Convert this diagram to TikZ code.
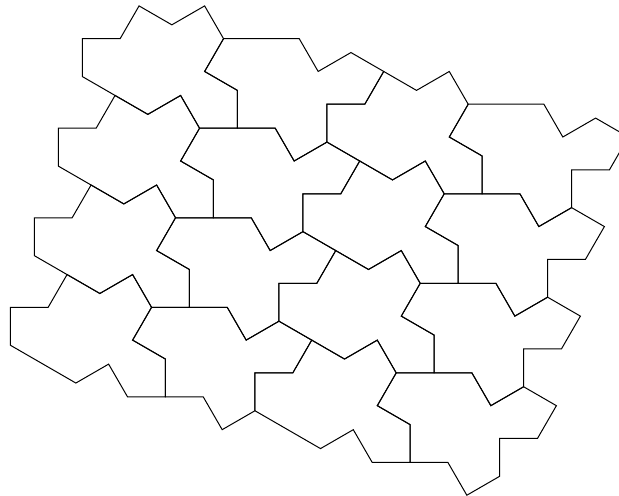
\documentclass[tikz,border=0pt]{standalone}
\usepackage{tikz}
\usetikzlibrary{calc}
\begin{document}
\begin{tikzpicture}[x=1cm, y=1cm,
    tileline/.style={draw=black, line width=0.75pt, line join=miter}]
    \useasboundingbox (0,0) rectangle (16.354,-13.104);
    \clip (0,0) rectangle (16.354,-13.104);
    % lattice of the patch
    \coordinate (o) at (2.174,-1.022);
    \coordinate (u) at (-0.634,-2.366);
    \coordinate (v) at (6.464,-1.732);
    \coordinate (m) at (3.732,0);
    \foreach \j in {0,1}
      \foreach \i in {0,...,3} {
        \draw[tileline] ($(o)+\i*(u)+\j*(v)$)
          \foreach \a in {0,60,-30,30,-60,240,-30,-90,180,120,210,150,150} {-- ++(\a:1)} -- cycle;
        \draw[tileline] ($(o)+(m)+\i*(u)+\j*(v)$)
          \foreach \a in {0,0,-60,30,-30,240,180,-90,210,120,180,90,150} {-- ++(\a:1)} -- cycle;
      }
\end{tikzpicture}
\end{document}
